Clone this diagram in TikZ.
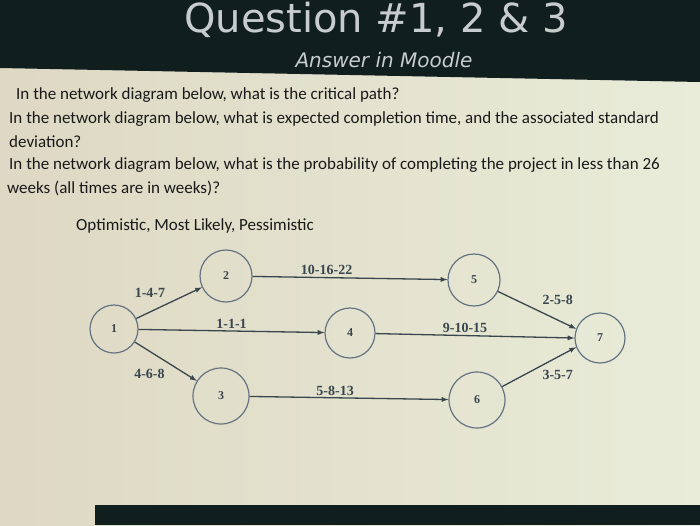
\documentclass[tikz,border=0pt]{standalone}
\usepackage{fontspec}
\setmainfont{Carlito}
\newfontfamily\titlefont{DejaVu Sans}
\newfontfamily\numfont{Liberation Serif}
\usetikzlibrary{arrows,positioning}
\definecolor{slidebeige}{RGB}{222,216,196}
\definecolor{slidegreen}{RGB}{232,236,216}
\definecolor{slidedark}{RGB}{16,30,30}
\definecolor{titlegray}{RGB}{200,204,204}
\definecolor{edgegray}{RGB}{58,70,78}
\definecolor{circlegray}{RGB}{100,115,130}
\tikzstyle{event} = [circle, draw=circlegray, line width=1.2pt, minimum size=50pt, inner sep=0pt, font=\numfont\bfseries\fontsize{12}{14}\selectfont, text=edgegray]
\tikzstyle{activity} = [line width=1.3pt, ->, >=latex, color=edgegray]
\tikzstyle{est} = [font=\numfont\bfseries\fontsize{14}{16}\selectfont, text=edgegray, inner sep=2pt]
\tikzstyle{question} = [anchor=west, inner sep=0pt, font=\fontsize{17}{20}\selectfont, text=black!90]
\begin{document}
\begin{tikzpicture}[x=1pt,y=-1pt]
\useasboundingbox (0,0) rectangle (700,525);
% slide background and bars
\shade[left color=slidebeige, right color=slidegreen] (0,0) rectangle (700,525);
\fill[slidedark] (0,0) -- (700,0) -- (700,82) -- (0,68) -- cycle;
\fill[slidedark] (95,505) rectangle (700,525);

% heading
\node[font=\titlefont\fontsize{40}{44}\selectfont, text=titlegray] (title) at (376,20) {Question \#1, 2 \& 3};
\node[font=\titlefont\itshape\fontsize{20}{24}\selectfont, text=titlegray] (sub) at (384,60) {Answer in Moodle};

% questions
\node[question] (q1) at (16,95) {In the network diagram below, what is the critical path?};
\node[question] (q2) at (9,119) {In the network diagram below, what is expected completion time, and the associated standard};
\node[question] (q3) at (9,142) {deviation?};
\node[question] (q4) at (9,165) {In the network diagram below, what is the probability of completing the project in less than 26};
\node[question] (q5) at (7,188) {weeks (all times are in weeks)?};
\node[question] (times) at (76,226) {Optimistic, Most Likely, Pessimistic};

% events
\node[event, minimum size=48pt] (n1) at (114,329) {1};
\node[event, minimum size=52pt] (n2) at (226,276) {2};
\node[event, minimum size=56pt] (n3) at (221,396) {3};
\node[event] (n4) at (350,333) {4};
\node[event, minimum size=52pt] (n5) at (474,280) {5};
\node[event, minimum size=56pt] (n6) at (477,400) {6};
\node[event] (n7) at (600,338) {7};

% activities
\draw[activity] (n1) -- node[est, above=9pt, xshift=-6pt, pos=0.3] {1-4-7} (n2);
\draw[activity] (n1) -- node[est, above, pos=0.5] {1-1-1} (n4);
\draw[activity] (n1) -- node[est, below=13pt, xshift=-4pt, pos=0.3] {4-6-8} (n3);
\draw[activity] (n2) -- node[est, above, pos=0.38] {10-16-22} (n5);
\draw[activity] (n3) -- node[est, above, pos=0.43] {5-8-13} (n6);
\draw[activity] (n4) -- node[est, above, pos=0.45] {9-10-15} (n7.west);
\draw[activity] (n5) -- node[est, above right=4pt, pos=0.5] {2-5-8} (n7.159);
\draw[activity] (n6) -- node[est, below right=1pt, pos=0.5] {3-5-7} (n7.201);
\end{tikzpicture}
\end{document}
